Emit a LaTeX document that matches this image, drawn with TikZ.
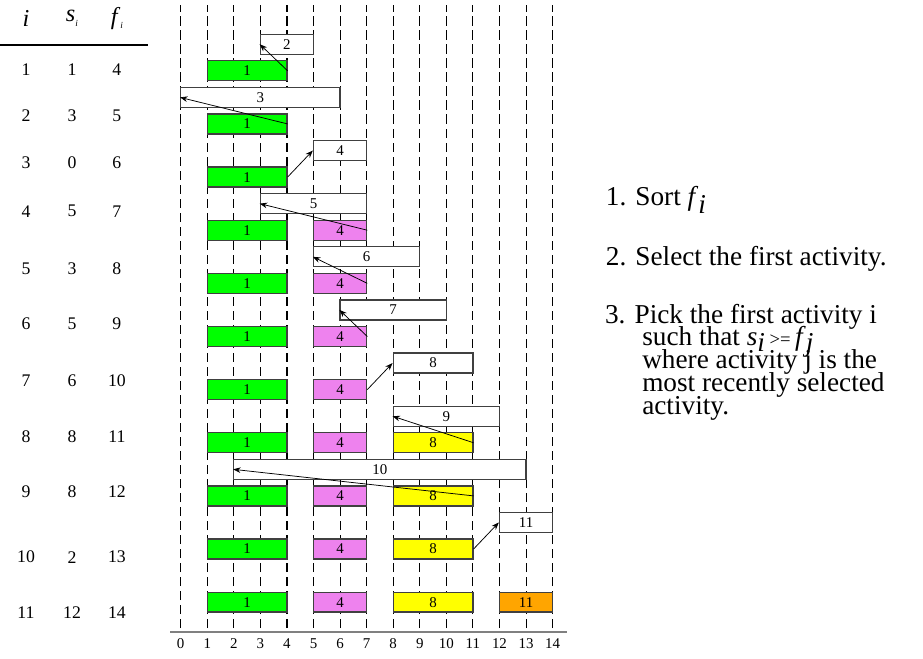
\documentclass[tikz,border=0pt]{standalone}
\usepackage{fontspec}
\setmainfont{Liberation Serif}
\usetikzlibrary{arrows.meta}

\definecolor{actgreen}{RGB}{0,255,0}
\definecolor{actpink}{RGB}{238,130,238}
\definecolor{actyellow}{RGB}{255,255,0}
\definecolor{actorange}{RGB}{255,165,0}

\tikzset{
  slot/.style={draw=black!75, line width=0.7pt, inner sep=0pt, minimum height=0.375cm,
               font=\fontsize{8}{8}\selectfont},
  cand/.style={slot, fill=white},
  pick/.style={-{Stealth[length=4pt,width=3pt]}, line width=0.4pt},
  timeline/.style={dash pattern=on 5pt off 2.5pt, line width=0.6pt},
  tab/.style={font=\fontsize{9.5}{9.5}\selectfont},
  rule/.style={font=\fontsize{14.6}{14.6}\selectfont, anchor=base west, inner sep=0pt},
}

\begin{document}
\begin{tikzpicture}[scale=0.5]
        \useasboundingbox (-6.8,-0.98) rectangle (27.94,23.79);

        \foreach \x in {0,...,14} {
                \draw [timeline] (\x,0.15) -- (\x,23.6);
                \node (t\x) at (\x,-0.45) {\fontsize{8}{8}\selectfont \x};
        }
        \draw [gray, line width=1pt] (-0.4,0) -- (14.55,0);

        \foreach \row in {1,...,11} {
                \node [slot, fill=actgreen, minimum width=1.5cm] (a1r\row) at (2.5,23.125-2*\row) {1};
        }
        \foreach \row in {4,...,11} {
                \node [slot, fill=actpink, minimum width=1cm] (a4r\row) at (6,23.125-2*\row) {4};
        }
        \foreach \row in {8,...,11} {
                \node [slot, fill=actyellow, minimum width=1.5cm] (a8r\row) at (9.5,23.125-2*\row) {8};
        }
        \node [slot, fill=actorange, minimum width=1cm] (a11r11) at (13,1.125) {11};

        \foreach \k/\sv/\fv/\last in {2/3/5/1, 3/0/6/1, 4/5/7/1, 5/3/7/4, 6/5/9/4,
                                      7/6/10/4, 8/8/11/4, 9/8/12/8, 10/2/13/8, 11/12/14/8} {
                \pgfmathsetmacro\row{int(\k-1)}
                \node [cand, minimum width={(\fv-\sv)*0.5cm}] (c\k) at ({(\sv+\fv)/2},{26.125-2*\k}) {\k};
                \draw [pick] (a\last r\row.east) -- (c\k.west);
        }

        % table of activities
        \node [font=\fontsize{13}{13}\selectfont] (hi) at (-5.82,23.11) {\textit{i}};
        \node [font=\fontsize{13}{13}\selectfont] (hs) at (-4.09,23.11) {\textit{s}\raisebox{-0.4ex}{\tiny\textit{i}}};
        \node [font=\fontsize{13}{13}\selectfont] (hf) at (-2.40,23.11) {\textit{f}\raisebox{-0.4ex}{\tiny\textit{i}}};
        \draw [line width=0.8pt] (-6.8,22.09) -- (-1.23,22.09);
        \foreach \act/\sv/\fv/\y in {1/1/4/21.15, 2/3/5/19.42, 3/0/6/17.65, 4/5/7/15.84,
                                     5/3/8/13.66, 6/5/9/11.59, 7/6/10/9.45, 8/8/11/7.34,
                                     9/8/12/5.27, 10/2/13/2.82, 11/12/14/0.72} {
                \node [tab] (i\act) at (-5.82,\y) {\act};
                \node [tab] (s\act) at (-4.09,\y) {\sv};
                \node [tab] (f\act) at (-2.40,\y) {\fv};
        }

        % greedy rule
        \node [rule] (step1) at (15.99,16.07) {1. Sort \textit{f}\raisebox{-0.7ex}{\textit{i}}};
        \node [rule] (step2) at (15.99,13.81) {2. Select the first activity.};
        \node [rule] (step3) at (15.96,11.63) {3. Pick the first activity i};
        \node [rule] (step3b) at (17.36,10.77)
              {such that \textit{s}\raisebox{-0.45ex}{\textit{i}}\,{\fontsize{10}{10}\selectfont >=}\,\textit{f}\raisebox{-0.45ex}{\textit{j}}};
        \node [rule] (step3c) at (17.36,9.91) {where activity j is the};
        \node [rule] (step3d) at (17.36,9.05) {most recently selected};
        \node [rule] (step3e) at (17.36,8.19) {activity.};
\end{tikzpicture}
\end{document}
